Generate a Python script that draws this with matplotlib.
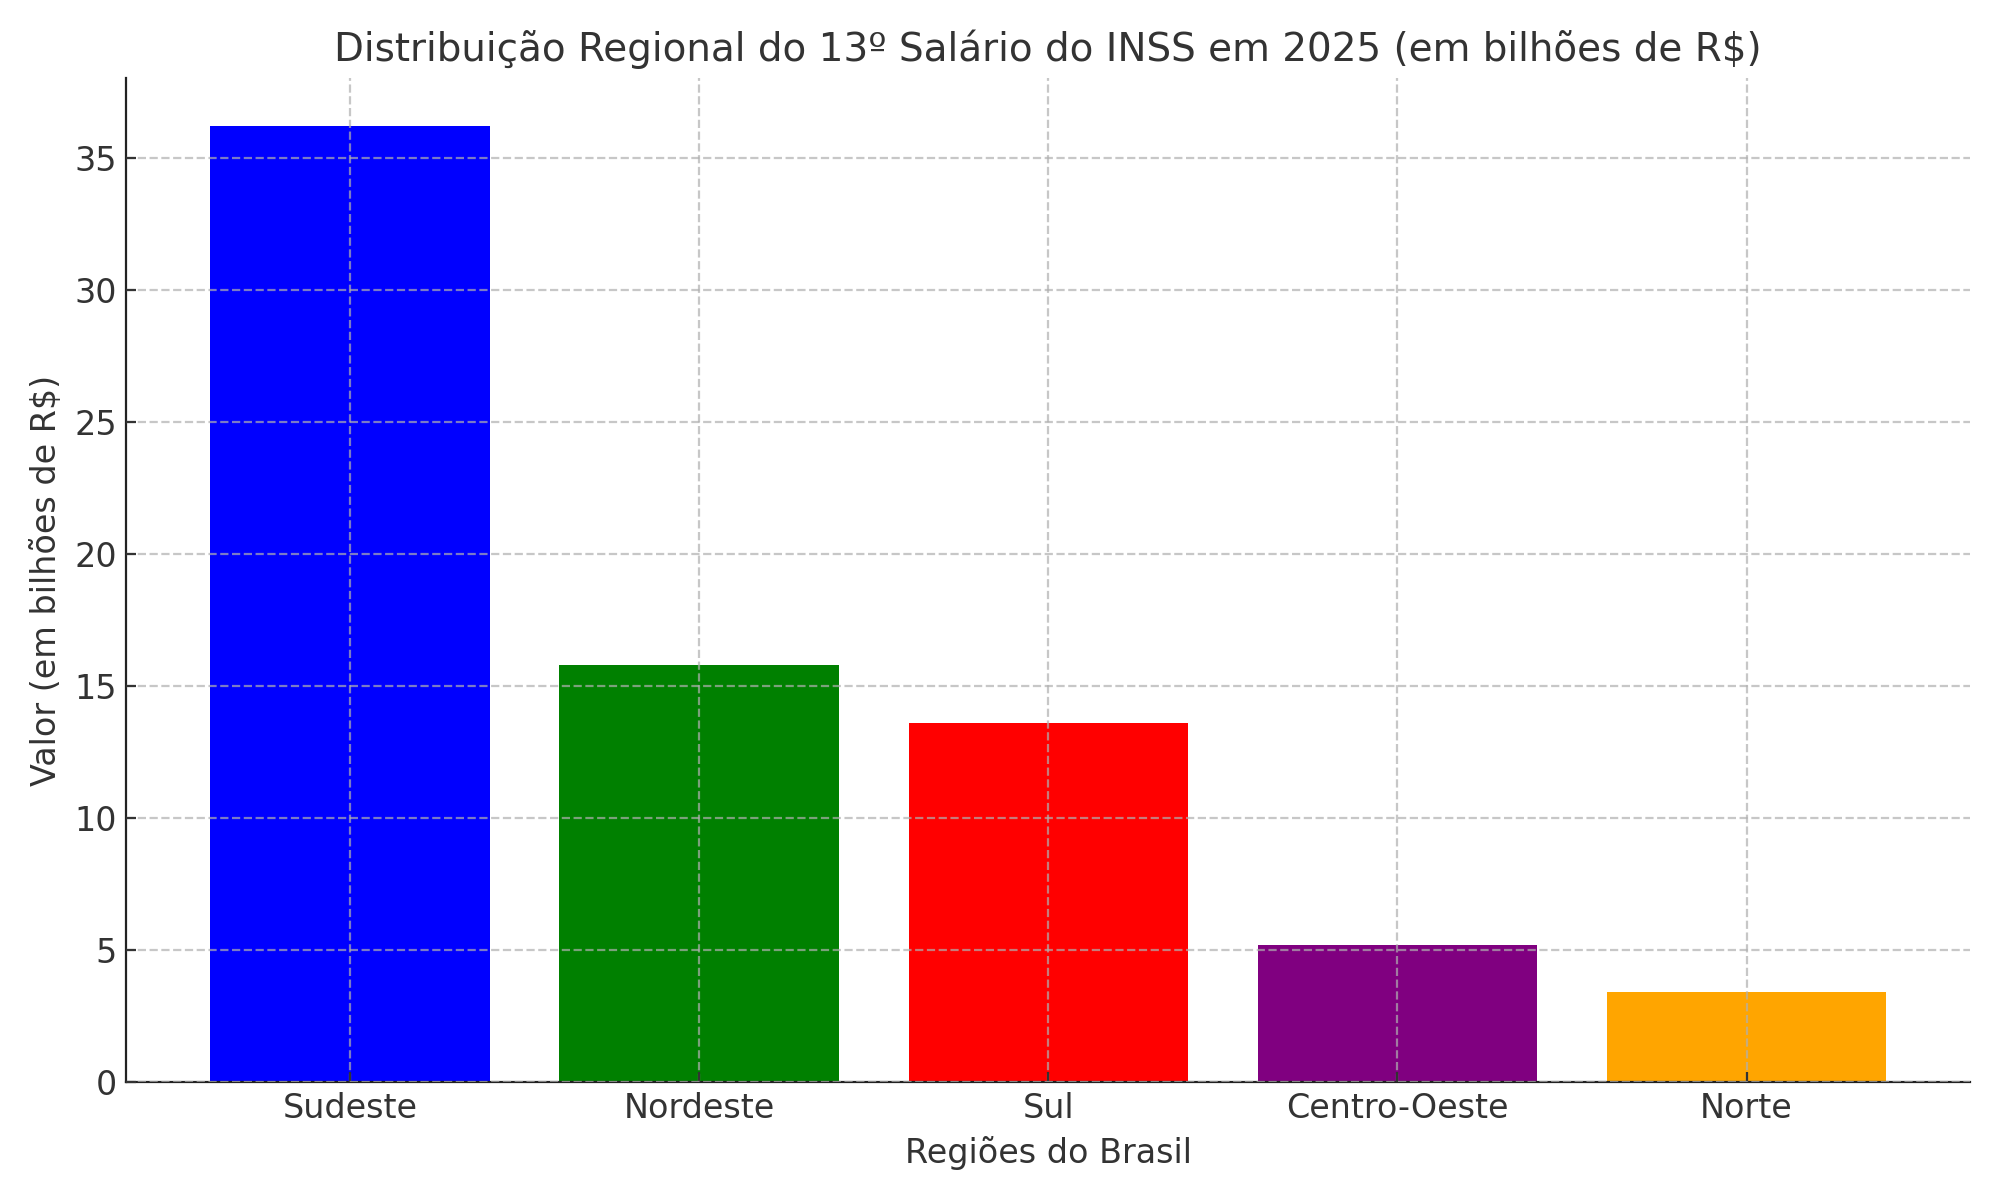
import matplotlib
matplotlib.use("Agg")
import matplotlib.pyplot as plt

regioes = ["Sudeste", "Nordeste", "Sul", "Centro-Oeste", "Norte"]
valores = [36.2, 15.8, 13.6, 5.2, 3.4]
cores = ["blue", "green", "red", "purple", "orange"]

fig, ax = plt.subplots(figsize=(10, 6), dpi=200)
ax.bar(regioes, valores, color=cores, zorder=2)
ax.set_title("Distribuição Regional do 13º Salário do INSS em 2025 (em bilhões de R$)", fontsize=14, color="#333333")
ax.set_xlabel("Regiões do Brasil", fontsize=12, color="#333333")
ax.set_ylabel("Valor (em bilhões de R$)", fontsize=12, color="#333333")
ax.tick_params(labelsize=12, labelcolor="#333333", color="#333333", direction="in")
ax.grid(True, linestyle="--", alpha=0.7, zorder=0)
ax.set_axisbelow(False)
for s in ["top", "right"]:
    ax.spines[s].set_visible(False)
for s in ["left", "bottom"]:
    ax.spines[s].set_color("#222222")
plt.tight_layout()
plt.savefig("out.png", dpi=200)
